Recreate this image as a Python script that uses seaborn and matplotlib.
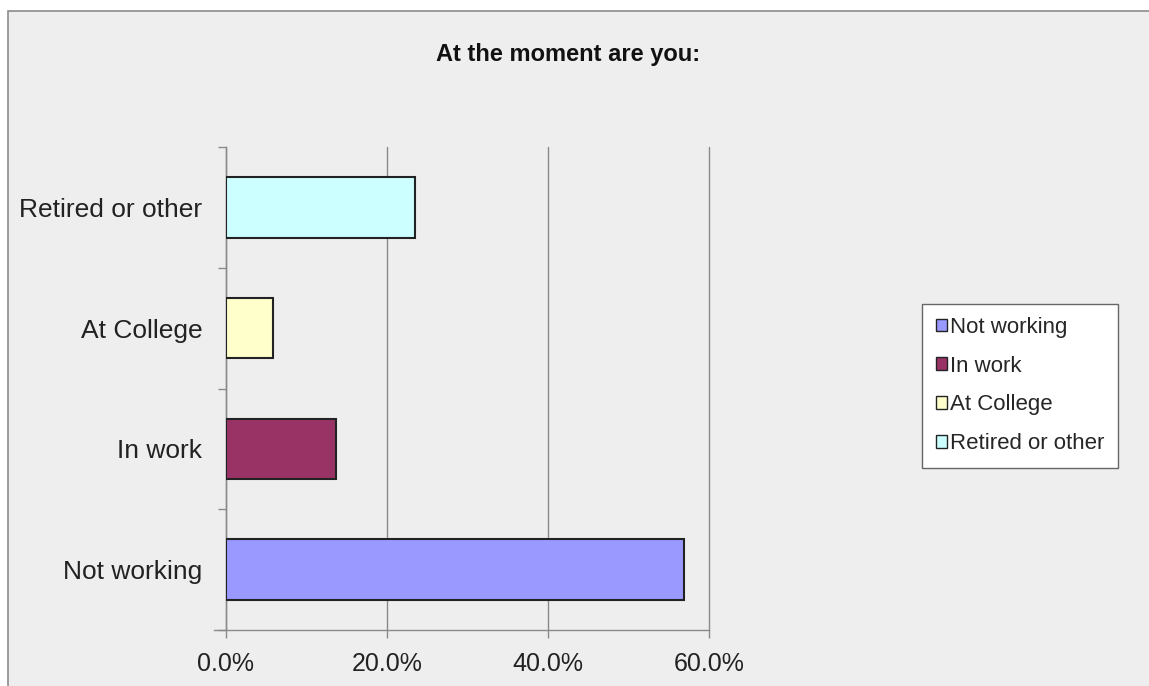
import matplotlib
matplotlib.use("Agg")
import matplotlib.pyplot as plt
from matplotlib.patches import Rectangle, Patch
from matplotlib.ticker import FuncFormatter, FixedLocator
import seaborn as sns
import pandas as pd

categories = ["Not working", "In work", "At College", "Retired or other"]
shares = [56.9, 13.7, 5.9, 23.5]
colors = ["#9999FF", "#993366", "#FFFFCC", "#CCFFFF"]
x_ticks = [0, 20, 40, 60]
title = "At the moment are you:"

df = pd.DataFrame({"status": categories, "share": shares})
palette = dict(zip(categories, colors))
plot_order = categories[::-1]

sns.set_style("white")
plt.rcParams["font.family"] = ["Liberation Sans", "DejaVu Sans"]

fig = plt.figure(figsize=(11.49, 6.86), dpi=100)
fig.patch.set_facecolor("white")
fig.patches.append(Rectangle((8 / 1149, -0.05), 1.1, 1 - 11 / 686 + 0.05,
                             transform=fig.transFigure, facecolor="#EEEEEE",
                             edgecolor="#8C8C8C", linewidth=1.2, zorder=-5))

ax = fig.add_axes([226 / 1149, 1 - 630 / 686, (709 - 226) / 1149, (630 - 147) / 686])
ax.set_zorder(2)
ax.set_facecolor("none")

sns.barplot(data=df, y="status", x="share", hue="status", order=plot_order,
            hue_order=categories, palette=palette, saturation=1, width=0.5,
            dodge=False, edgecolor="#222222", linewidth=1.5, legend=False,
            ax=ax, zorder=3)

ax.set_xlim(0, 60)
ax.set_ylim(3.5, -0.5)
ax.set_xlabel("")
ax.set_ylabel("")

ax.xaxis.set_major_locator(FixedLocator(x_ticks))
ax.xaxis.set_major_formatter(FuncFormatter(lambda v, p: f"{v:.1f}%"))
ax.grid(axis="x", color="#8A8A8A", linewidth=1.0, zorder=0)
ax.grid(axis="y", visible=False)
for gl in ax.get_xgridlines():
    gl.set_clip_on(False)

ax.yaxis.set_minor_locator(FixedLocator([-0.5, 0.5, 1.5, 2.5, 3.5]))
ax.tick_params(axis="y", which="major", left=False, length=0, pad=17,
               labelsize=19, labelcolor="#222222")
ax.tick_params(axis="y", which="minor", left=True, length=6, width=1,
               color="#8A8A8A", direction="out")
ax.tick_params(axis="x", which="major", bottom=True, length=6, width=1,
               color="#8A8A8A", direction="out", labelsize=18,
               labelcolor="#222222", pad=10)
for side in ["top", "right"]:
    ax.spines[side].set_visible(False)
for side in ["left", "bottom"]:
    ax.spines[side].set_color("#8A8A8A")
    ax.spines[side].set_linewidth(1.0)
ax.spines["bottom"].set_bounds(-1.5, 60)

fig.text(568 / 1149, 1 - 55 / 686, title, ha="center", va="center",
         fontsize=17, fontweight="bold", color="#111111",
         family=["Liberation Sans Narrow", "Liberation Sans"])

handles = [Patch(facecolor=c, edgecolor="#222222", linewidth=1.0) for c in colors]
leg = fig.legend(handles, categories, loc="center", bbox_to_anchor=(1020 / 1149, 1 - 385.5 / 686),
                 frameon=True, fancybox=False, framealpha=1, fontsize=16,
                 handlelength=0.5, handleheight=0.5, handletextpad=0.15,
                 labelspacing=0.8, borderpad=0.6, borderaxespad=0)
leg.get_frame().set_edgecolor("#666666")
leg.get_frame().set_linewidth(1.0)
leg.get_frame().set_facecolor("white")

fig.savefig("out.png", dpi=100)
